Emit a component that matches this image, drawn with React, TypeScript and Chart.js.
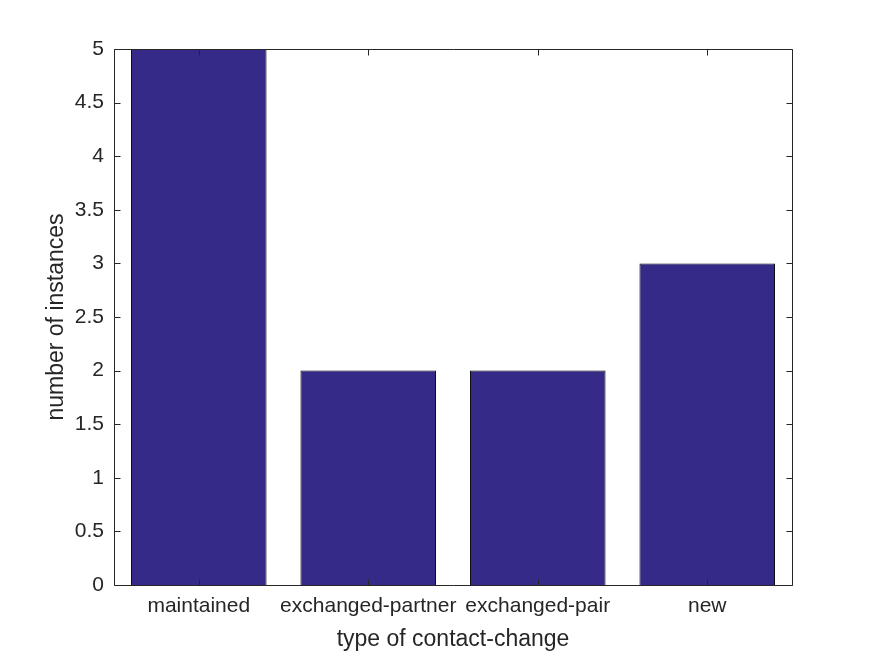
import React, { useEffect, useRef } from "react";
import { Chart, registerables } from "chart.js";

Chart.register(...registerables);

const categories = ["maintained", "exchanged-partner", "exchanged-pair", "new"];
const instances = [5, 2, 2, 3];
const yMin = 0;
const yMax = 5;
const yStep = 0.5;
const xTitle = "type of contact-change";
const yTitle = "number of instances";

const W = 875;
const H = 656;
const AREA = { left: 114, top: 49, right: 792, bottom: 585 };
const AXIS_COLOR = "#262626";
const BAR_COLOR = "rgb(53,42,135)";
const FONT = "'Liberation Sans', Arial, Helvetica, sans-serif";

const boxPlugin = {
  id: "matlabBox",
  afterDatasetsDraw(chart: any) {
    const { ctx, chartArea: a, scales } = chart;
    const len = 6;
    ctx.save();
    ctx.strokeStyle = AXIS_COLOR;
    ctx.lineWidth = 1;
    ctx.beginPath();
    const L = Math.round(a.left) + 0.5;
    const R = Math.round(a.right) + 0.5;
    const T = Math.round(a.top) + 0.5;
    const B = Math.round(a.bottom) + 0.5;
    ctx.moveTo(L, T);
    ctx.lineTo(R, T);
    ctx.lineTo(R, B);
    ctx.lineTo(L, B);
    ctx.closePath();
    scales.y.ticks.forEach((_t: any, i: number) => {
      const y = Math.round(scales.y.getPixelForTick(i)) + 0.5;
      ctx.moveTo(L, y);
      ctx.lineTo(L + len, y);
      ctx.moveTo(R, y);
      ctx.lineTo(R - len, y);
    });
    scales.x.ticks.forEach((_t: any, i: number) => {
      const x = Math.round(scales.x.getPixelForTick(i)) + 0.5;
      ctx.moveTo(x, B);
      ctx.lineTo(x, B - len);
      ctx.moveTo(x, T);
      ctx.lineTo(x, T + len);
    });
    ctx.stroke();
    ctx.restore();
  },
};

export default function App() {
  const ref = useRef<HTMLCanvasElement | null>(null);

  useEffect(() => {
    if (!ref.current) return;
    const chart = new Chart(ref.current, {
      type: "bar",
      data: {
        labels: categories,
        datasets: [
          {
            data: instances,
            backgroundColor: BAR_COLOR,
            borderColor: "#000000",
            borderWidth: 1,
            categoryPercentage: 0.8,
            barPercentage: 1,
          },
        ],
      },
      options: {
        responsive: false,
        animation: false,
        maintainAspectRatio: false,
        layout: {
          padding: { left: 0, top: AREA.top, right: W - AREA.right, bottom: 0 },
        },
        plugins: {
          legend: { display: false },
          tooltip: { enabled: false },
        },
        scales: {
          x: {
            grid: { display: false, drawTicks: false },
            border: { display: false },
            ticks: {
              color: AXIS_COLOR,
              font: { family: FONT, size: 21 },
              padding: 9,
              maxRotation: 0,
              autoSkip: false,
            },
            title: {
              display: true,
              text: xTitle,
              color: AXIS_COLOR,
              font: { family: FONT, size: 23 },
              padding: { top: 0, bottom: 3 },
            },
            afterFit(scale: any) {
              scale.height = H - AREA.bottom;
            },
          },
          y: {
            min: yMin,
            max: yMax,
            grid: { display: false, drawTicks: false },
            border: { display: false },
            ticks: {
              stepSize: yStep,
              color: AXIS_COLOR,
              font: { family: FONT, size: 21 },
              padding: 10,
              callback: (v: any) => String(Number(v)),
            },
            title: {
              display: true,
              text: yTitle,
              color: AXIS_COLOR,
              font: { family: FONT, size: 23 },
              padding: { top: 43, bottom: 0 },
            },
            afterFit(scale: any) {
              scale.width = AREA.left;
            },
          },
        },
      },
      plugins: [boxPlugin],
    });
    return () => chart.destroy();
  }, []);

  return (
    <div style={{ position: "fixed", left: 0, top: 0, width: W, height: H, background: "#fff" }}>
      <canvas ref={ref} width={W} height={H} style={{ display: "block" }} />
    </div>
  );
}
